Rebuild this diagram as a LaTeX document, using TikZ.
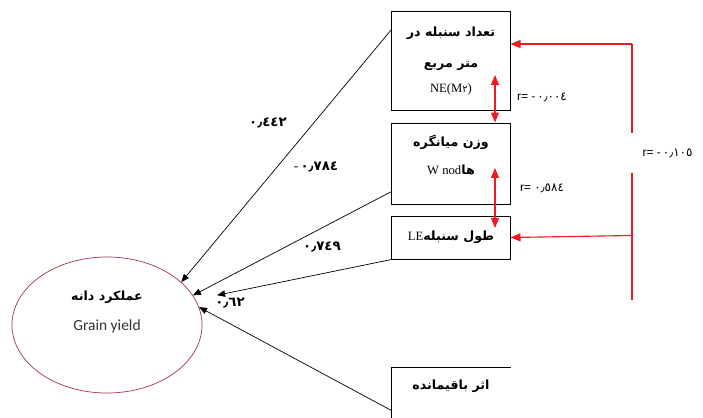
\documentclass[tikz,border=0pt]{standalone}
\usepackage{fontspec}
\setmainfont{Liberation Serif}
\setsansfont{Liberation Sans}
\newfontfamily\arabicfont[Script=Arabic]{DejaVu Sans}
\newfontfamily\calibrifont{Carlito}
\TeXXeTstate=1
\usetikzlibrary{shapes.geometric, arrows.meta, positioning}
\definecolor{corrred}{RGB}{235, 28, 36}
\definecolor{ovalred}{RGB}{165, 55, 70}
\newcommand{\fatext}[1]{{\arabicfont\bfseries\beginR #1\endR}}
\newcommand{\fanum}[1]{{\arabicfont\bfseries #1}}

\tikzset{
    varbox/.style={draw=black, line width=0.7pt, minimum width=2.95cm, inner sep=0pt,
        align=center, font=\fontsize{9}{11}\selectfont},
    oval/.style={ellipse, draw=ovalred, line width=0.5pt, minimum width=4.75cm,
        minimum height=3.4cm, inner sep=0pt},
    pathline/.style={line width=0.5pt, -{Triangle[length=2mm, width=1.6mm]}},
    coef/.style={font=\fontsize{9.5}{10}\selectfont, inner sep=1pt},
    rlab/.style={font=\sffamily\fontsize{8.5}{10}\selectfont, inner sep=1pt},
    corrline/.style={corrred, line width=0.8pt},
    corrone/.style={corrline, -{Triangle[length=2.5mm, width=2mm]}},
    corrtwo/.style={corrline, {Triangle[length=2.5mm, width=2mm]}-{Triangle[length=2.5mm, width=2mm]}}
}

\begin{document}
\begin{tikzpicture}[x=0.025cm, y=-0.025cm]
\useasboundingbox (0,0) rectangle (703,418);

% Trait boxes
\node[varbox, minimum height=2.45cm] (ne) at (451,61)
    {\fatext{تعداد سنبله در}\\[11pt]\fatext{متر مربع}\\[7pt]NE(M{\arabicfont\scriptsize ٢})};
\node[varbox, minimum height=2.025cm, text depth=13pt, below=0.3cm of ne] (wn)
    {\fatext{وزن میانگره}\\[9pt]W nod\fatext{ها}};
\node[varbox, minimum height=1.075cm, below=0.275cm of wn] (le) {LE\fatext{طول سنبله}};
\node[varbox, draw=none, minimum height=0.9cm, below=2.7cm of le] (res) {\fatext{اثر باقیمانده}};
\draw[line width=0.7pt] (res.north east) -- (res.north west) -- ++(0,53);

% Grain yield
\node[oval] (gy) at (107,325) {};
\node[align=center, font=\fontsize{9}{11}\selectfont] (gytxt) at (107,312)
    {\fatext{عملکرد دانه}\\[10pt]{\calibrifont\fontsize{11}{12}\selectfont\color{black!80}Grain yield}};

% Path coefficients
\draw[pathline] ([yshift=-0.45cm]ne.north west) -- (gy.30);
\draw[pathline] ([yshift=0.325cm]wn.south west) -- (gy.19);
\draw[pathline, shorten >=0.55cm] (le.south west) -- (gy.16);
\draw[pathline] ([yshift=-0.15cm]res.south west) -- (gy.11);

\node[coef] (p1) at (268,123) {\fanum{٠٫٤٤٢}};
\node[coef] (p2) at (316,167) {-\,\fanum{٠٫٧٨٤}};
\node[coef] (p3) at (322,247) {\fanum{٠٫٧٤٩}};
\node[coef] (p4) at (230,303) {\fanum{٠٫٦٢}};

% Correlations
\coordinate (c1) at (495,75);
\coordinate (c2a) at (495,168);
\coordinate (c2b) at (495,228);
\draw[corrtwo] (c1) -- (c1 |- wn.north);
\draw[corrtwo] (c2a) -- (c2b);
\node[rlab] (r1) at (542,97) {r= -\,{\arabicfont ٠٫٠٠٤}};
\node[rlab] (r2) at (542,188) {r= {\arabicfont ٠٫٥٨٤}};

% Outer bracket
\coordinate (brtop) at (632,44);
\coordinate (brmid) at (632,235.5);
\coordinate (brbot) at (632,300);
\node[rlab, anchor=west] (r3) at (641,153) {r= -\,{\arabicfont ٠٫١٠٥}};
\draw[corrline] (brtop) -- ++(0,89);
\draw[corrline] (brbot) -- ++(0,-127);
\draw[corrone] (brtop) -- (brtop -| ne.east);
\draw[corrone] (brmid) -- (le.east);
\end{tikzpicture}
\end{document}
